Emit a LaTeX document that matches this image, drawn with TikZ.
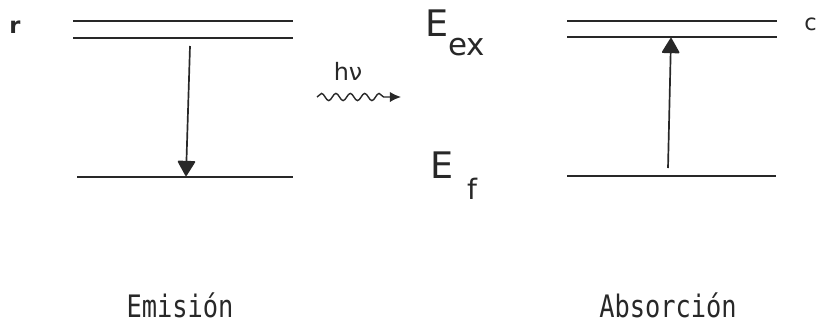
\documentclass[tikz,border=0pt]{standalone}
\usepackage{fontspec}
\setmainfont{DejaVu Sans}
\newfontfamily\labelfont[FakeStretch=0.82]{DejaVu Sans Mono}
\usetikzlibrary{arrows.meta,positioning,decorations.pathmorphing}
\definecolor{InkGray}{RGB}{40,40,40}
\tikzset{
  level/.style={draw=InkGray,line width=1.3pt},
  trans/.style={-{Triangle[length=0.4cm,width=0.46cm,round]},draw=InkGray,line width=1.2pt},
  photon/.style={-{Latex[length=0.28cm,width=0.26cm]},draw=InkGray,line width=1pt,
    decorate,decoration={snake,amplitude=0.09cm,segment length=0.36cm,post length=0.28cm}},
  energy/.style={font=\fontsize{26}{28}\selectfont,text=InkGray,inner sep=0pt,anchor=north west},
  caption/.style={font=\labelfont\fontsize{22}{24}\selectfont,text=InkGray,inner sep=0pt}
}
\begin{document}
\begin{tikzpicture}[x=0.025cm,y=-0.025cm]
  \useasboundingbox (0,0) rectangle (819,324);
  % emision
  \draw[level] (73,21) -- (293,21);
  \draw[level] (73,38) -- (293,38);
  \draw[level] (77,177) -- (293,177);
  \coordinate (emTop) at (190,46);
  \coordinate (emBot) at (186,176);
  \draw[trans] (emTop) -- (emBot);
  % absorcion
  \draw[level] (567,21) -- (777,21);
  \draw[level] (567,37) -- (777,37);
  \draw[level] (567,176) -- (776,176);
  \coordinate (abBot) at (668,168);
  \coordinate (abTop) at (671,38);
  \draw[trans] (abBot) -- (abTop);
  % foton
  \coordinate (phA) at (317,97);
  \coordinate (phB) at (401,97);
  \draw[photon] (phA) -- (phB);
  \node[font=\fontsize{17}{18}\selectfont,text=InkGray] (hnu) at (348,71) {hν};
  % niveles
  \node[energy] (Eex) at (425,10) {E\raisebox{-0.5em}{\fontsize{22}{24}\selectfont ex}};
  \node[energy] (Ef) at (430,152) {E\raisebox{-0.55em}{\fontsize{20}{22}\selectfont\, f}};
  % bordes
  \node[font=\bfseries\fontsize{16}{18}\selectfont,text=InkGray,inner sep=0pt] (cutL) at (15,27) {r};
  \node[font=\fontsize{16}{18}\selectfont,text=InkGray,inner sep=0pt,anchor=west] (cutR) at (804,24) {c};
  % etiquetas
  \node[caption] (emi) at (180,305) {Emisión};
  \node[caption] (abs) at (668,305) {Absorción};
\end{tikzpicture}
\end{document}
